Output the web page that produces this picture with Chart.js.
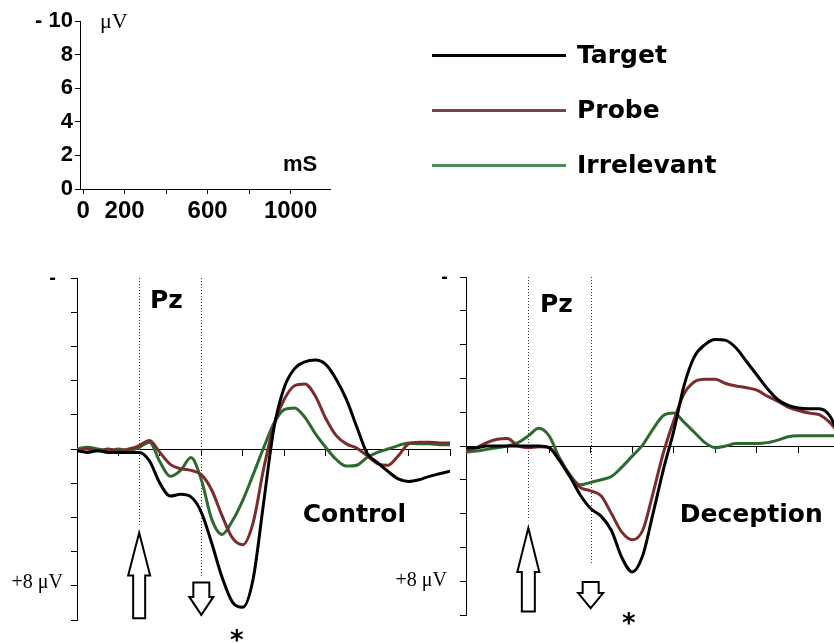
<!DOCTYPE html>
<html>
<head>
<meta charset="utf-8">
<script src="https://cdn.jsdelivr.net/npm/chart.js@4.4.0/dist/chart.umd.min.js"></script>
<style>
  html, body { margin: 0; padding: 0; background: #fff; overflow: hidden; }
  body { width: 834px; height: 643px; position: relative; }
  canvas { position: absolute; }
  #scale { left: 0; top: 0; }
  #control { left: 0; top: 0; }
  #deception { left: 380px; top: 0; }
  .lg { position: absolute; left: 432px; height: 20px; display: flex; align-items: center; }
  .lg i { display: block; width: 134px; height: 3px; }
  .lg span { margin-left: 11px; font: bold 25px 'DejaVu Sans'; line-height: 20px; color: #000; }
</style>
</head>
<body>
<canvas id="scale" width="340" height="230"></canvas>
<canvas id="control" width="460" height="643"></canvas>
<canvas id="deception" width="460" height="643"></canvas>
<div id="legend"></div>
<script>
// time axis (ms from start of epoch), shared by both panels
const times = [0, 50, 100, 150, 200, 250, 300, 350, 400, 450, 500, 550, 600, 650, 700, 750, 800, 850,
  900, 950, 1000, 1050, 1100, 1150, 1200, 1250, 1300, 1350, 1400, 1450, 1500, 1550, 1600, 1650, 1700, 1750, 1800];

// Control group, Pz (μV, positive plotted downward)
const ctrlTarget = [0.1, 0.2, 0.1, 0.2, 0.2, 0.2, 0.2, 0.7, 2.0, 2.75, 2.65, 2.8, 3.7, 5.5, 7.5, 8.95, 9.25, 7.6,
  3.2, -1.2, -3.6, -4.7, -5.1, -5.2, -4.95, -4.1, -2.9, -1.3, 0.25, 0.8, 1.3, 1.75, 1.9, 1.8, 1.6, 1.45, 1.3];
const ctrlProbe = [0.1, 0.0, 0.1, 0.0, 0.1, 0.0, -0.2, -0.5, 0.2, 0.9, 1.15, 1.25, 1.5, 2.4, 3.9, 5.2, 5.6, 4.3,
  1.2, -1.4, -2.9, -3.7, -3.8, -3.1, -1.8, -0.8, -0.3, -0.05, 0.4, 0.85, 0.95, 0.4, -0.3, -0.4, -0.4, -0.35, -0.35];
const ctrlIrrelevant = [0.0, -0.1, 0.0, 0.1, 0.0, 0.1, -0.1, -0.4, 0.75, 1.6, 1.25, 0.5, 1.8, 4.1, 5.0, 4.2, 3.0, 1.5,
  -0.05, -1.5, -2.3, -2.4, -1.85, -0.9, -0.1, 0.6, 1.0, 0.95, 0.5, 0.2, 0.0, -0.2, -0.35, -0.3, -0.3, -0.25, -0.25];

// Deception group, Pz
const decTarget = [0.1, 0.1, 0.0, 0.0, 0.0, 0.0, 0.0, 0.0, 0.1, 0.85, 1.8, 2.9, 3.7, 4.15, 5.0, 6.6, 7.45, 6.5,
  4.0, 1.4, -0.9, -3.6, -5.3, -6.0, -6.3, -6.25, -5.8, -5.0, -4.2, -3.4, -2.75, -2.4, -2.25, -2.2, -2.2, -1.8, -0.5];
const decProbe = [0.3, 0.1, -0.2, -0.4, -0.45, 0.0, 0.1, 0.05, 0.1, 0.85, 1.8, 2.45, 2.65, 2.95, 4.0, 5.1, 5.55, 5.0,
  2.8, 0.4, -1.5, -3.1, -3.8, -3.95, -3.95, -3.7, -3.55, -3.45, -3.3, -2.95, -2.65, -2.3, -2.1, -1.95, -1.85, -1.4, -0.7];
const decIrrelevant = [0.35, 0.3, 0.2, 0.1, 0.0, -0.2, -0.6, -1.05, -0.6, 0.7, 1.7, 2.3, 2.15, 2.0, 1.8, 1.25, 0.6, -0.05,
  -1.0, -1.8, -1.95, -1.4, -0.8, -0.2, 0.1, 0.0, -0.15, -0.15, -0.15, -0.2, -0.35, -0.55, -0.6, -0.6, -0.6, -0.6, -0.6];

const seriesNames = ['Target', 'Probe', 'Irrelevant'];
const seriesColors = ['#000000', '#7b2c2c', '#2d6a32'];
const legendColors = ['#000000', '#734646', '#4e8a5c'];

// calibration bar (top left)
const scaleYTicks = [0, 2, 4, 6, 8, 10];
const scaleYLabels = ['0', '2', '4', '6', '8', '- 10'];
const scaleXTicks = [0, 200, 400, 600, 800, 1000];
const scaleXLabels = ['0', '200', '', '600', '', '1000'];

const SANS = "'Liberation Sans', Arial, sans-serif";
const HEAVY = "'DejaVu Sans', sans-serif";
const SERIF = "'Liberation Serif', 'Times New Roman', serif";

// annotations, in data units (ms, μV)
const ctrlMarks = {
  dotted: [[300, 4.55], [600, 7.5]],
  upArrow: { t: 300, tip: 4.9, neck: 7.4, end: 9.9, head: 11, shaft: 6 },
  downArrow: { t: 600, tip: 9.7, neck: 8.65, end: 7.8, head: 12, shaft: 8 },
  star: [771, 10.9],
  site: [352, -8.25],
  title: ['Control', 1089, 4.27],
  minusGap: 21, plusGap: 14, plusBase: 8.13
};
const decMarks = {
  dotted: [[300, 4.4], [600, 7.0]],
  upArrow: { t: 300, tip: 4.85, neck: 7.45, end: 9.8, head: 11, shaft: 6.5 },
  downArrow: { t: 600, tip: 9.6, neck: 8.7, end: 8.05, head: 12.5, shaft: 8 },
  star: [784, 10.2],
  site: [356, -7.93],
  title: ['Deception', 1029, 4.5],
  minusGap: 18, plusGap: 19, plusBase: 8.3
};

function centeredText(ctx, txt, cx, cy) {
  const m = ctx.measureText(txt);
  ctx.textBaseline = 'alphabetic';
  ctx.fillText(txt, cx, cy + (m.actualBoundingBoxAscent - m.actualBoundingBoxDescent) / 2);
}

function drawArrow(ctx, x, a, yTip, yNeck, yEnd) {
  ctx.beginPath();
  ctx.moveTo(x, yTip);
  ctx.lineTo(x + a.head, yNeck);
  ctx.lineTo(x + a.shaft, yNeck);
  ctx.lineTo(x + a.shaft, yEnd);
  ctx.lineTo(x - a.shaft, yEnd);
  ctx.lineTo(x - a.shaft, yNeck);
  ctx.lineTo(x - a.head, yNeck);
  ctx.closePath();
  ctx.fillStyle = '#fff';
  ctx.fill();
  ctx.lineWidth = 2;
  ctx.strokeStyle = '#000';
  ctx.stroke();
}

function decor(marks) {
  return {
    id: 'decor',
    beforeDatasetsDraw(chart) {
      const { ctx, scales: { x, y } } = chart;
      ctx.save();
      ctx.strokeStyle = '#333';
      ctx.lineWidth = 1;
      ctx.setLineDash([1, 2]);
      marks.dotted.forEach(([t, v]) => {
        const px = Math.round(x.getPixelForValue(t)) + 0.5;
        ctx.beginPath();
        ctx.moveTo(px, y.getPixelForValue(-10));
        ctx.lineTo(px, y.getPixelForValue(v));
        ctx.stroke();
      });
      ctx.restore();
    },
    afterDraw(chart) {
      const { ctx, chartArea, scales: { x, y } } = chart;
      ctx.save();
      const u = marks.upArrow, d = marks.downArrow;
      drawArrow(ctx, x.getPixelForValue(u.t), u, y.getPixelForValue(u.tip), y.getPixelForValue(u.neck), y.getPixelForValue(u.end));
      drawArrow(ctx, x.getPixelForValue(d.t), d, y.getPixelForValue(d.tip), y.getPixelForValue(d.neck), y.getPixelForValue(d.end));

      ctx.fillStyle = '#000';
      ctx.font = 'bold 25px ' + HEAVY;
      ctx.textAlign = 'left';
      ctx.textBaseline = 'alphabetic';
      ctx.fillText('Pz', x.getPixelForValue(marks.site[0]), y.getPixelForValue(marks.site[1]));
      ctx.fillText(marks.title[0], x.getPixelForValue(marks.title[1]), y.getPixelForValue(marks.title[2]));

      ctx.textAlign = 'center';
      ctx.font = 'bold 26px ' + HEAVY;
      centeredText(ctx, '*', x.getPixelForValue(marks.star[0]), y.getPixelForValue(marks.star[1]));

      ctx.textAlign = 'right';
      ctx.font = 'bold 20px ' + SANS;
      centeredText(ctx, '-', chartArea.left - marks.minusGap, y.getPixelForValue(-10));
      ctx.font = '20px ' + SERIF;
      ctx.textBaseline = 'alphabetic';
      ctx.fillText('+8 \u03bcV', chartArea.left - marks.plusGap, y.getPixelForValue(marks.plusBase));
      ctx.restore();
    }
  };
}

function erpChart(id, values, marks, yWidth, padding) {
  return new Chart(document.getElementById(id), {
    type: 'line',
    data: {
      datasets: seriesNames.map((name, i) => ({
        label: name,
        data: values[i].map((v, k) => ({ x: times[k], y: v })),
        borderColor: seriesColors[i],
        borderWidth: 3,
        pointRadius: 0,
        cubicInterpolationMode: 'monotone',
        fill: false
      }))
    },
    options: {
      responsive: false,
      animation: false,
      layout: { padding: padding },
      plugins: { legend: { display: false }, tooltip: { enabled: false } },
      scales: {
        x: {
          type: 'linear',
          min: 0,
          max: 1800,
          position: { y: 0 },
          ticks: { display: false, stepSize: 200 },
          grid: { drawOnChartArea: false, tickLength: 6, color: '#000' },
          border: { color: '#000', width: 1 },
          afterFit: s => { s.height = 0; }
        },
        y: {
          min: -10,
          max: 10,
          reverse: true, // negative up, ERP convention
          ticks: { display: false, stepSize: 2 },
          grid: { drawOnChartArea: false, tickLength: 6, color: '#000' },
          border: { color: '#000', width: 1 },
          afterFit: s => { s.width = yWidth; }
        }
      }
    },
    plugins: [decor(marks)]
  });
}

erpChart('control', [ctrlTarget, ctrlProbe, ctrlIrrelevant], ctrlMarks, 77, { left: 0, top: 278, right: 10, bottom: 23 });
erpChart('deception', [decTarget, decProbe, decIrrelevant], decMarks, 86, { left: 0, top: 277, right: 0, bottom: 28 });

// calibration axes
const scaleText = {
  id: 'scaleText',
  afterDraw(chart) {
    const { ctx, chartArea } = chart;
    ctx.save();
    ctx.fillStyle = '#000';
    ctx.textAlign = 'left';
    ctx.textBaseline = 'alphabetic';
    ctx.font = '22px ' + SERIF;
    ctx.fillText('\u03bcV', chartArea.left + 20, chartArea.top + 7);
    ctx.font = 'bold 22px ' + SANS;
    ctx.fillText('mS', chartArea.left + 203, chartArea.bottom - 18);
    ctx.restore();
  }
};

new Chart(document.getElementById('scale'), {
  type: 'line',
  data: { datasets: [] },
  options: {
    responsive: false,
    animation: false,
    layout: { padding: { left: 0, top: 21, right: 10, bottom: 0 } },
    plugins: { legend: { display: false }, tooltip: { enabled: false } },
    scales: {
      x: {
        type: 'linear',
        min: -15,
        max: 1190,
        afterBuildTicks: s => { s.ticks = scaleXTicks.map(v => ({ value: v })); },
        ticks: {
          autoSkip: false, maxRotation: 0, padding: 3, color: '#000',
          font: { family: SANS, size: 24, weight: 'bold' },
          callback: (v) => scaleXLabels[scaleXTicks.indexOf(v)]
        },
        grid: { drawOnChartArea: false, tickLength: 5, color: '#000' },
        border: { color: '#000' },
        afterFit: s => { s.height = 41; }
      },
      y: {
        type: 'linear',
        min: 0,
        max: 10,
        afterBuildTicks: s => { s.ticks = scaleYTicks.map(v => ({ value: v })); },
        ticks: {
          autoSkip: false, padding: 2, color: '#000',
          font: { family: SANS, size: 22, weight: 'bold' },
          callback: (v) => scaleYLabels[scaleYTicks.indexOf(v)]
        },
        grid: { drawOnChartArea: false, tickLength: 5, color: '#000' },
        border: { color: '#000' },
        afterFit: s => { s.width = 80; }
      }
    }
  },
  plugins: [scaleText]
});

// legend
const legend = document.getElementById('legend');
const legendY = [55, 110, 165];
seriesNames.forEach((name, i) => {
  const row = document.createElement('div');
  row.className = 'lg';
  row.style.top = (legendY[i] - 10) + 'px';
  row.innerHTML = '<i style="background:' + legendColors[i] + '"></i><span>' + name + '</span>';
  legend.appendChild(row);
});
</script>
</body>
</html>
